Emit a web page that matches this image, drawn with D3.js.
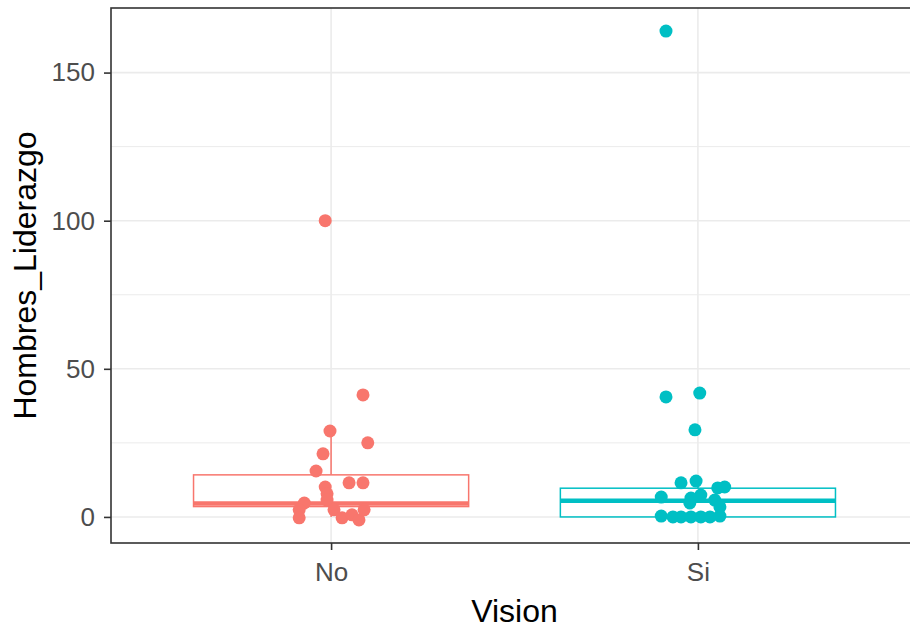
<!DOCTYPE html>
<html>
<head>
<meta charset="utf-8">
<script src="https://d3js.org/d3.v7.min.js"></script>
<style type="text/css">
  body{
    margin: 0px;
    background: white;
    font-family: 'Liberation Sans', Arial, sans-serif;
  }
</style>
</head>
<body>
<svg id="chart" width="910" height="629"></svg>
<script>

// categories and colours
var categories = ['No', 'Si'];
var colors = ['#F8766D', '#00BFC4'];

// box stats: [lower whisker, q1, median, q3, upper whisker]
var boxNo = [0, 3.5, 4.5, 14.2, 29];
var boxSi = [0, 0, 5.5, 9.7, 12];

// jittered points, value and horizontal jitter (in category units)
var valuesNo = [100, 41.2, 29, 25, 21.3, 15.5, 11.5, 11.5, 10.1, 7.8, 4.7, 5.7, 2.4, 2.4, -0.3, -0.3, 0.7, -1, 2.4];
var jitterNo = [-0.016, 0.087, -0.003, 0.1, -0.022, -0.041, 0.049, 0.087, -0.016, -0.011, -0.073, -0.011, 0.008, -0.087, -0.087, 0.03, 0.057, 0.076, 0.09];

var valuesSi = [164, 40.5, 41.8, 29.4, 11.5, 12.1, 9.8, 10.1, 6.7, 6.4, 7.4, 5.7, 4.7, 3.4, 0.3, 0, 0, 0, 0, 0, 0.3];
var jitterSi = [-0.087, -0.087, 0.005, -0.008, -0.046, -0.005, 0.054, 0.073, -0.1, -0.019, 0.008, 0.046, -0.022, 0.06, -0.1, -0.068, -0.046, -0.019, 0.008, 0.033, 0.06];

var yTicks = [0, 50, 100, 150];
var yMinor = [25, 75, 125];

var svg = d3.select('#chart');

var pLeft = 111, pRight = 918, pTop = 8, pBottom = 543;

var x = d3.scaleLinear().domain([0.4, 2.6]).range([pLeft, pRight]);
var y = d3.scaleLinear().domain([-8.8, 171.8]).range([pBottom, pTop]);

// panel grid
var grid = svg.append('g');

grid.selectAll('.minor')
  .data(yMinor)
  .enter()
  .append('line')
  .attr('x1', pLeft).attr('x2', pRight)
  .attr('y1', function(d) { return y(d); })
  .attr('y2', function(d) { return y(d); })
  .attr('stroke', '#EBEBEB')
  .attr('stroke-width', 1);

grid.selectAll('.major')
  .data(yTicks)
  .enter()
  .append('line')
  .attr('x1', pLeft).attr('x2', pRight)
  .attr('y1', function(d) { return y(d); })
  .attr('y2', function(d) { return y(d); })
  .attr('stroke', '#EBEBEB')
  .attr('stroke-width', 1.6);

grid.selectAll('.vmajor')
  .data(categories)
  .enter()
  .append('line')
  .attr('x1', function(d, i) { return x(i + 1); })
  .attr('x2', function(d, i) { return x(i + 1); })
  .attr('y1', pTop).attr('y2', pBottom)
  .attr('stroke', '#EBEBEB')
  .attr('stroke-width', 1.6);

// boxes
function drawBox(stats, i) {
  var cx = x(i + 1);
  var half = x(1.375) - x(1);
  var col = colors[i];
  var g = svg.append('g');

  g.append('line')
    .attr('x1', cx).attr('x2', cx)
    .attr('y1', y(stats[3])).attr('y2', y(stats[4]))
    .attr('stroke', col).attr('stroke-width', 1.5);
  g.append('line')
    .attr('x1', cx).attr('x2', cx)
    .attr('y1', y(stats[1])).attr('y2', y(stats[0]))
    .attr('stroke', col).attr('stroke-width', 1.5);

  g.append('rect')
    .attr('x', cx - half)
    .attr('y', y(stats[3]))
    .attr('width', half * 2)
    .attr('height', y(stats[1]) - y(stats[3]))
    .attr('fill', 'white')
    .attr('stroke', col)
    .attr('stroke-width', 1.5);

  g.append('line')
    .attr('x1', cx - half).attr('x2', cx + half)
    .attr('y1', y(stats[2])).attr('y2', y(stats[2]))
    .attr('stroke', col).attr('stroke-width', 4.5);
}

drawBox(boxNo, 0);
drawBox(boxSi, 1);

// jittered points
function drawPoints(vals, jit, i) {
  svg.append('g')
    .selectAll('circle')
    .data(vals)
    .enter()
    .append('circle')
    .attr('cx', function(d, k) { return x(i + 1 + jit[k]); })
    .attr('cy', function(d) { return y(d); })
    .attr('r', 6.5)
    .attr('fill', colors[i]);
}

drawPoints(valuesNo, jitterNo, 0);
drawPoints(valuesSi, jitterSi, 1);

// panel border
svg.append('rect')
  .attr('x', pLeft).attr('y', pTop)
  .attr('width', pRight - pLeft).attr('height', pBottom - pTop)
  .attr('fill', 'none')
  .attr('stroke', '#333333')
  .attr('stroke-width', 1.6);

// axes
var yAxis = svg.append('g')
  .attr('transform', 'translate(' + pLeft + ',0)')
  .call(d3.axisLeft(y).tickValues(yTicks).tickSize(7).tickPadding(9));

var xAxis = svg.append('g')
  .attr('transform', 'translate(0,' + pBottom + ')')
  .call(d3.axisBottom(x).tickValues([1, 2]).tickFormat(function(d) { return categories[d - 1]; }).tickSize(7).tickPadding(13));

[yAxis, xAxis].forEach(function(a) {
  a.select('.domain').remove();
  a.selectAll('.tick line').attr('stroke', '#333333').attr('stroke-width', 1.6);
  a.selectAll('.tick text')
    .attr('fill', '#4D4D4D')
    .style('font-size', '26px')
    .style('font-family', "'Liberation Sans', Arial, sans-serif");
});

// titles
svg.append('text')
  .attr('x', x(1.5))
  .attr('y', 622)
  .attr('text-anchor', 'middle')
  .style('font-size', '32px')
  .attr('fill', 'black')
  .text('Vision');

svg.append('text')
  .attr('transform', 'translate(36,' + ((pTop + pBottom) / 2) + ') rotate(-90)')
  .attr('text-anchor', 'middle')
  .style('font-size', '32px')
  .attr('fill', 'black')
  .text('Hombres_Liderazgo');

</script>
</body>
</html>
